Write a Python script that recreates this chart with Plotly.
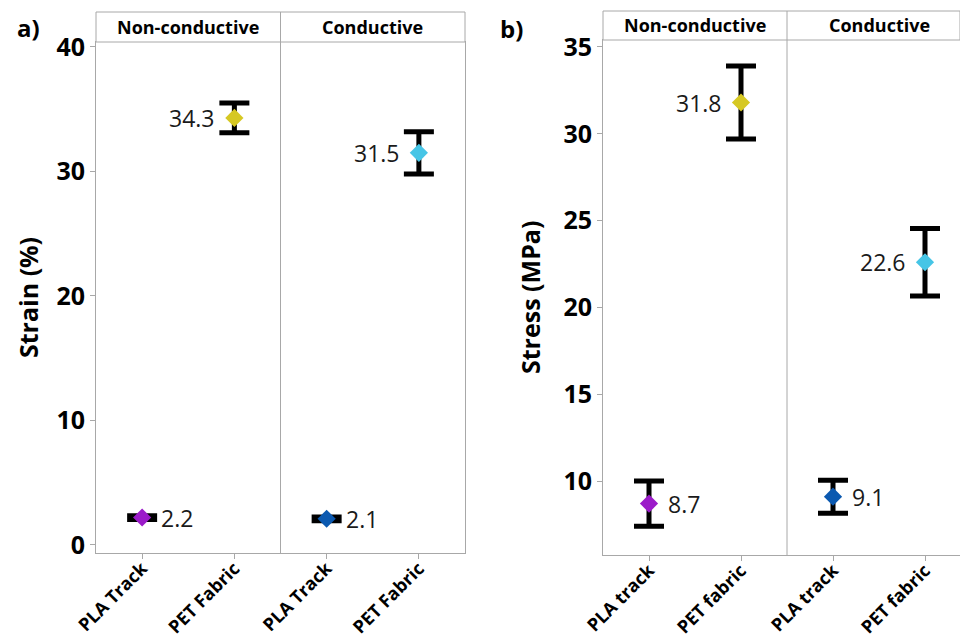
import plotly.graph_objects as go

# Sample groups (two per conductivity class)
strain_labels = ["PLA Track", "PET Fabric", "PLA Track", "PET Fabric"]
stress_labels = ["PLA track", "PET fabric", "PLA track", "PET fabric"]
groups = ["Non-conductive", "Conductive"]

# Mean values and standard deviations
strain_mean = [2.2, 34.3, 2.1, 31.5]
strain_sd = [0.15, 1.2, 0.15, 1.7]
stress_mean = [8.7, 31.8, 9.1, 22.6]
stress_sd = [1.3, 2.1, 0.95, 1.95]

marker_colors = ["#9B1BC9", "#D6C823", "#0B59B0", "#46C5E6"]
strain_label_side = ["right", "left", "right", "left"]
stress_label_side = ["right", "left", "right", "left"]

W, H = 960, 640
FONT = "Open Sans"
GRID = "#A8A8A8"


def px_x(p):
    return p / W


def px_y(p):
    return (H - p) / H


xpos = [1, 2, 3, 4]

fig = go.Figure()
annotations = []


def add_panel(means, sds, sides, xa, ya):
    fig.add_trace(go.Scatter(
        x=xpos, y=means,
        mode="markers",
        marker=dict(symbol="diamond", size=14, color=marker_colors,
                    line=dict(width=0)),
        error_y=dict(type="data", array=sds, visible=True,
                     color="black", thickness=5, width=15),
        xaxis=xa, yaxis=ya, showlegend=False, cliponaxis=False,
    ))
    # value labels beside each mean
    for xv, v, side in zip(xpos, means, sides):
        annotations.append(dict(
            text=f"{v:.1f}", x=xv, y=v, xref=xa, yref=ya,
            showarrow=False, yanchor="middle",
            xanchor="left" if side == "right" else "right",
            xshift=17 if side == "right" else -17,
            font=dict(family=FONT, size=23, color="#1A1A1A")))


add_panel(strain_mean, strain_sd, strain_label_side, "x", "y")
add_panel(stress_mean, stress_sd, stress_label_side, "x2", "y2")

# panel geometry in pixels
A = dict(l=96, r=465, t=42, b=553, ht=12)
B = dict(l=603, r=960, t=40, b=555, ht=11)

tickfont = dict(family=FONT, size=25, color="black", weight="bold")
xtickfont = dict(family=FONT, size=18, color="black", weight="bold")

common_x = dict(tickmode="array", tickvals=xpos, tickangle=-45,
                ticks="outside", ticklen=5, tickcolor=GRID,
                showline=True, linecolor=GRID, linewidth=1,
                showgrid=False, zeroline=False, tickfont=xtickfont,
                ticklabelstandoff=-8,
                automargin=False, fixedrange=True)
common_y = dict(ticks="outside", ticklen=5, tickcolor=GRID,
                showline=True, linecolor=GRID, linewidth=1,
                showgrid=False, zeroline=False, tickfont=tickfont,
                automargin=False, fixedrange=True)

fig.update_layout(
    width=W, height=H,
    margin=dict(l=0, r=0, t=0, b=0, autoexpand=False),
    paper_bgcolor="white", plot_bgcolor="white",
    showlegend=False,
    xaxis=dict(domain=[px_x(A["l"]), px_x(A["r"])], range=[0.5, 4.5],
               ticktext=strain_labels, anchor="y", mirror=True, **common_x),
    yaxis=dict(domain=[px_y(A["b"]), px_y(A["t"])], range=[-0.65, 40.4],
               tickvals=[0, 10, 20, 30, 40], anchor="x", mirror=True,
               **common_y),
    xaxis2=dict(domain=[px_x(B["l"]), 1.0],
                range=[0.5, 0.5 + (B["r"] - B["l"]) / 92.0],
                ticktext=stress_labels, anchor="y2", mirror=True, **common_x),
    yaxis2=dict(domain=[px_y(B["b"]), px_y(B["t"])], range=[5.74, 35.4],
                tickvals=[10, 15, 20, 25, 30, 35], anchor="x2", **common_y),
)

shapes = []
for P, xa, right in ((A, "x", A["r"]), (B, "x2", B["r"])):
    # header strip
    shapes.append(dict(type="rect", xref="paper", yref="paper",
                       x0=px_x(P["l"]), x1=px_x(right),
                       y0=px_y(P["t"]), y1=px_y(P["ht"]),
                       line=dict(color=GRID, width=1), fillcolor="white"))
    # divider between the two groups
    shapes.append(dict(type="line", xref=xa, yref="paper",
                       x0=2.5, x1=2.5, y0=px_y(P["b"]), y1=px_y(P["ht"]),
                       line=dict(color=GRID, width=1)))
    for gname, cx in zip(groups, (1.5, 3.5)):
        annotations.append(dict(text=gname, xref=xa, yref="paper",
                                x=cx, y=px_y((P["t"] + P["ht"]) / 2),
                                showarrow=False, xanchor="center",
                                yanchor="middle",
                                font=dict(family=FONT, size=18, color="black",
                                          weight="bold")))

# axis titles and panel letters
label_font = dict(family=FONT, size=25, color="black", weight="bold")
annotations += [
    dict(text="Strain (%)", xref="paper", yref="paper", x=px_x(28),
         y=px_y(298), textangle=-90, showarrow=False,
         xanchor="center", yanchor="middle", font=label_font),
    dict(text="Stress (MPa)", xref="paper", yref="paper", x=px_x(530),
         y=px_y(298), textangle=-90, showarrow=False,
         xanchor="center", yanchor="middle", font=label_font),
    dict(text="a)", xref="paper", yref="paper", x=px_x(28), y=px_y(28),
         showarrow=False, xanchor="center", yanchor="middle",
         font=dict(family=FONT, size=24, color="black", weight="bold")),
    dict(text="b)", xref="paper", yref="paper", x=px_x(511), y=px_y(29),
         showarrow=False, xanchor="center", yanchor="middle",
         font=dict(family=FONT, size=24, color="black", weight="bold")),
]

fig.update_layout(shapes=shapes, annotations=annotations)

fig.write_html("out.html", config={"displayModeBar": False})
